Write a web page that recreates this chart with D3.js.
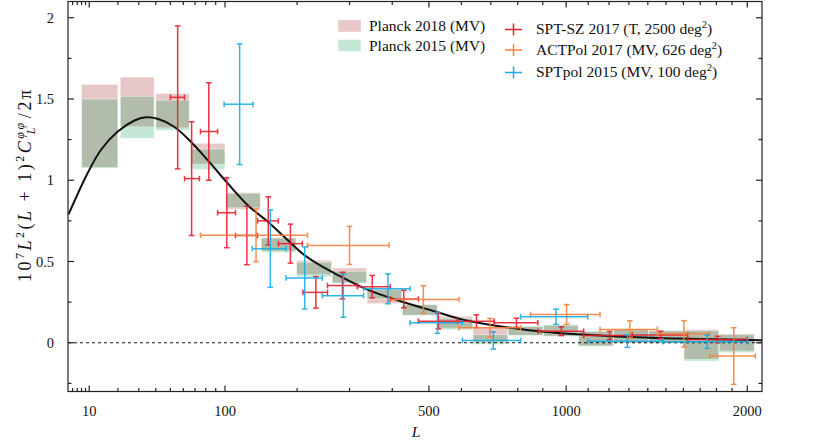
<!DOCTYPE html>
<html>
<head>
<meta charset="utf-8">
<script src="https://d3js.org/d3.v7.min.js"></script>
<style>
  body { margin: 0; background: #fff; }
  text { font-family: "Liberation Serif", "Times New Roman", serif; fill: #111; }
</style>
</head>
<body>
<script>
width = 831
height = 440

// Planck bandpower bins (L ranges)
planckBins = [[8,20],[21,39],[40,65],[66,100],[101,144],[145,198],[199,263],[264,338],[339,425],
  [426,525],[526,637],[638,762],[763,901],[902,1054],[1055,1221],[1222,1404],[1405,1602],[1603,1816],[1817,2048]]
planck2018Lo = [1.08, 1.33, 1.323, 1.10, 0.82, 0.565, 0.42, 0.37, 0.241, 0.17, 0.09, 0.005, 0.045, 0.04, -0.02, 0.0, -0.004, -0.10, -0.05]
planck2018Hi = [1.59, 1.635, 1.534, 1.227, 0.925, 0.645, 0.507, 0.46, 0.33, 0.235, 0.163, 0.092, 0.10, 0.105, 0.07, 0.085, 0.074, 0.082, 0.055]
planck2015Lo = [1.075, 1.258, 1.307, 1.067, 0.83, 0.555, 0.405, 0.365, 0.27, 0.168, 0.08, -0.01, 0.045, 0.04, -0.021, -0.004, -0.004, -0.113, -0.061]
planck2015Hi = [1.50, 1.517, 1.493, 1.192, 0.92, 0.645, 0.495, 0.44, 0.327, 0.235, 0.15, 0.05, 0.102, 0.112, 0.071, 0.086, 0.074, 0.075, 0.05]

// SPT-SZ 2017: L, Lmin, Lmax, value, error
sptszL    = [55.5, 67, 83, 102, 126, 155, 189, 233, 285, 351, 430, 528, 650, 795, 979, 1203, 1470, 1808]
sptszLmin = [50, 61, 75, 92, 112, 140, 170, 210, 255, 317, 395, 470, 587, 712, 880, 1079, 1318, 1625]
sptszLmax = [61, 74, 92, 112, 140, 170, 209, 255, 317, 395, 470, 587, 712, 880, 1079, 1318, 1625, 2000]
sptszVal  = [1.51, 1.01, 1.30, 0.80, 0.66, 0.75, 0.61, 0.31, 0.352, 0.345, 0.269, 0.133, 0.133, 0.123, 0.071, 0.045, 0.048, 0.02]
sptszErr  = [0.44, 0.35, 0.30, 0.215, 0.18, 0.148, 0.12, 0.097, 0.082, 0.069, 0.054, 0.048, 0.039, 0.028, 0.027, 0.025, 0.023, 0.02]

// ACTPol 2017
actL    = [138, 300, 484, 697, 1002, 1305, 1603, 1911]
actLmin = [75, 218, 392, 592, 850, 1156, 1452, 1757]
actLmax = [218, 392, 592, 811, 1156, 1452, 1757, 2054]
actVal  = [0.661, 0.599, 0.266, 0.092, 0.174, 0.082, 0.055, -0.082]
actErr  = [0.162, 0.117, 0.085, 0.058, 0.061, 0.053, 0.081, 0.174]

// SPTpol 2015
sptpolL    = [117, 158, 213, 287, 389, 525, 709, 956, 1292, 1743]
sptpolLmin = [99, 133, 182, 245, 331, 447, 603, 811, 1098, 1483]
sptpolLmax = [134, 182, 245, 331, 447, 603, 811, 1098, 1483, 2003]
sptpolVal  = [1.468, 0.579, 0.399, 0.29, 0.332, 0.123, 0.014, 0.16, 0.01, 0.006]
sptpolErr  = [0.371, 0.238, 0.191, 0.133, 0.092, 0.065, 0.053, 0.047, 0.038, 0.041]

// theory curve
theoryL   = [5.2, 9.55, 13.57, 19.8, 27.5, 33.9, 41.1, 52.8, 66.3, 81.7, 102.8, 126.8, 154, 184, 211.6, 242, 268, 340, 422, 515, 620, 773, 905, 1207, 1564, 1977, 2100]
theoryVal = [0.79, 1.043, 1.186, 1.298, 1.366, 1.387, 1.378, 1.329, 1.237, 1.125, 0.982, 0.848, 0.746, 0.634, 0.542, 0.474, 0.429, 0.327, 0.255, 0.194, 0.135, 0.092, 0.067, 0.040, 0.026, 0.018, 0.016]

xMajor = [10, 100, 500, 1000, 2000]
xMinor = [6, 7, 8, 9, 20, 30, 40, 50, 60, 70, 80, 90, 200, 300, 400, 600, 700, 800, 900,
  1100, 1200, 1300, 1400, 1500, 1600, 1700, 1800, 1900]
yMajor = [0, 0.5, 1, 1.5, 2]
yMinor = [-0.25, 0.25, 0.75, 1.25, 1.75]

mL = 68, mR = 762, mT = 1.5, mB = 391.5

x = d3.scalePow().exponent(0.4).domain([5.1, 2100]).range([mL, mR])
y = d3.scaleLinear().domain([-0.3, 2.1]).range([mB, mT])

svg = d3.select("body").append("svg")
    .attr("width", width)
    .attr("height", height)

plot = svg.append("g")

pink = "rgba(160,30,30,0.25)"
green = "rgba(10,160,80,0.24)"

// Planck boxes
function boxes(lo, hi, color) {
  plot.append("g").selectAll("rect")
    .data(planckBins)
    .enter()
    .append("rect")
      .attr("x", function(d) { return x(d[0]); })
      .attr("width", function(d) { return x(d[1]) - x(d[0]); })
      .attr("y", function(d, i) { return y(hi[i]); })
      .attr("height", function(d, i) { return y(lo[i]) - y(hi[i]); })
      .attr("fill", color)
      .attr("stroke", "rgba(255,255,255,0.45)")
      .attr("stroke-width", 1)
}
boxes(planck2018Lo, planck2018Hi, pink)
boxes(planck2015Lo, planck2015Hi, green)

// zero line
plot.append("line")
    .attr("x1", mL).attr("x2", mR)
    .attr("y1", y(0)).attr("y2", y(0))
    .attr("stroke", "#111")
    .attr("stroke-width", 1)
    .attr("stroke-dasharray", "3,3")

// theory curve
theory = theoryL.map(function(l, i) { return [l, theoryVal[i]]; })
plot.append("path")
    .datum(theory)
    .attr("fill", "none")
    .attr("stroke", "#111")
    .attr("stroke-width", 2)
    .attr("d", d3.line()
      .x(function(d) { return x(d[0]); })
      .y(function(d) { return y(d[1]); })
      .curve(d3.curveCatmullRom))

// error bars
cap = 2.8
function errbars(L, Lmin, Lmax, val, err, color) {
  g = plot.append("g")
      .attr("stroke", color)
      .attr("stroke-width", 1.5)
      .attr("opacity", 0.9)
  L.forEach(function(l, i) {
    cx = x(l), cy = y(val[i])
    x0 = x(Lmin[i]), x1 = x(Lmax[i])
    y0 = y(val[i] - err[i]), y1 = y(val[i] + err[i])
    g.append("line").attr("x1", x0).attr("x2", x1).attr("y1", cy).attr("y2", cy)
    g.append("line").attr("x1", cx).attr("x2", cx).attr("y1", y0).attr("y2", y1)
    g.append("line").attr("x1", x0).attr("x2", x0).attr("y1", cy - cap).attr("y2", cy + cap)
    g.append("line").attr("x1", x1).attr("x2", x1).attr("y1", cy - cap).attr("y2", cy + cap)
    g.append("line").attr("x1", cx - cap).attr("x2", cx + cap).attr("y1", y0).attr("y2", y0)
    g.append("line").attr("x1", cx - cap).attr("x2", cx + cap).attr("y1", y1).attr("y2", y1)
  })
}
red = "#ea1d2c", orange = "#f7813a", blue = "#16aee8"
errbars(sptszL, sptszLmin, sptszLmax, sptszVal, sptszErr, red)
errbars(actL, actLmin, actLmax, actVal, actErr, orange)
errbars(sptpolL, sptpolLmin, sptpolLmax, sptpolVal, sptpolErr, blue)

// frame and ticks
axis = svg.append("g").attr("stroke", "#222").attr("stroke-width", 1.2)
axis.append("rect")
    .attr("x", mL).attr("y", mT)
    .attr("width", mR - mL).attr("height", mB - mT)
    .attr("fill", "none")
function xt(vals, len) {
  vals.forEach(function(v) {
    axis.append("line").attr("x1", x(v)).attr("x2", x(v)).attr("y1", mB).attr("y2", mB - len)
    axis.append("line").attr("x1", x(v)).attr("x2", x(v)).attr("y1", mT).attr("y2", mT + len)
  })
}
function yt(vals, len) {
  vals.forEach(function(v) {
    axis.append("line").attr("x1", mL).attr("x2", mL + len).attr("y1", y(v)).attr("y2", y(v))
    axis.append("line").attr("x1", mR).attr("x2", mR - len).attr("y1", y(v)).attr("y2", y(v))
  })
}
xt(xMajor, 6)
xt(xMinor, 3.5)
yt(yMajor, 6)
yt(yMinor, 3.5)

svg.selectAll("text.xlab")
    .data(xMajor)
    .enter()
    .append("text")
      .attr("x", function(d) { return x(d); })
      .attr("y", 416)
      .attr("text-anchor", "middle")
      .attr("font-size", 14.5)
      .text(function(d) { return d; })
svg.selectAll("text.ylab")
    .data(yMajor)
    .enter()
    .append("text")
      .attr("x", 54)
      .attr("y", function(d) { return y(d) + 5; })
      .attr("text-anchor", "end")
      .attr("font-size", 14.5)
      .text(function(d) { return d; })

svg.append("text")
    .attr("x", 416).attr("y", 437)
    .attr("text-anchor", "middle")
    .attr("font-size", 15.5)
    .attr("font-style", "italic")
    .text("L")

// y label
yl = svg.append("text")
    .attr("transform", "translate(31,186) rotate(-90)")
    .attr("text-anchor", "middle")
    .attr("font-size", 18)
    .attr("textLength", 192)
    .attr("lengthAdjust", "spacing")
yl.append("tspan").text("10")
yl.append("tspan").attr("font-size", 12).attr("dy", -7).text("7")
yl.append("tspan").attr("font-style", "italic").attr("dy", 7).text("L")
yl.append("tspan").attr("font-size", 12).attr("dy", -7).text("2")
yl.append("tspan").attr("dy", 7).text("(")
yl.append("tspan").attr("font-style", "italic").text("L")
yl.append("tspan").text(" + 1)")
yl.append("tspan").attr("font-size", 12).attr("dy", -7).text("2")
yl.append("tspan").attr("font-style", "italic").attr("dy", 7).text("C")
yl.append("tspan").attr("font-size", 12).attr("font-style", "italic").attr("dy", -7).text("φφ")
yl.append("tspan").attr("font-size", 12).attr("font-style", "italic").attr("dx", -14).attr("dy", 11).text("L")
yl.append("tspan").attr("dx", 7).attr("dy", -4).text("/2π")

// legend
legPlanck = [["Planck 2018 (MV)", pink], ["Planck 2015 (MV)", green]]
legPlanck.forEach(function(d, i) {
  svg.append("rect")
      .attr("x", 338).attr("y", 20 + i * 19.5)
      .attr("width", 23).attr("height", 12)
      .attr("fill", d[1])
      .attr("stroke", "rgba(255,255,255,0.45)")
  svg.append("text")
      .attr("x", 369).attr("y", 31 + i * 19.5)
      .attr("font-size", 15.5)
      .text(d[0])
})
legExp = [["SPT-SZ 2017 (T, 2500 deg", red, 29.5], ["ACTPol 2017 (MV, 626 deg", orange, 50], ["SPTpol 2015 (MV, 100 deg", blue, 72.5]]
legExp.forEach(function(d) {
  g = svg.append("g").attr("stroke", d[1]).attr("stroke-width", 1.5)
  g.append("line").attr("x1", 505).attr("x2", 522).attr("y1", d[2]).attr("y2", d[2])
  g.append("line").attr("x1", 513.5).attr("x2", 513.5).attr("y1", d[2] - 6).attr("y2", d[2] + 6)
  t = svg.append("text")
      .attr("x", 536).attr("y", d[2] + 4.5)
      .attr("font-size", 15.5)
  t.append("tspan").text(d[0])
  t.append("tspan").attr("font-size", 10.5).attr("dy", -6).text("2")
  t.append("tspan").attr("dy", 6).text(")")
})
</script>
</body>
</html>
